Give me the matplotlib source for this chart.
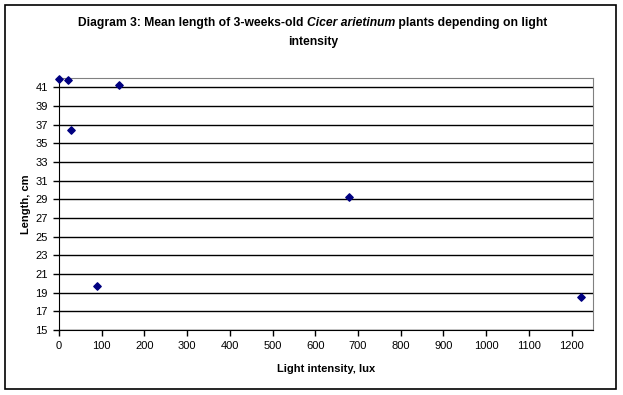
import matplotlib
matplotlib.use("Agg")
import matplotlib.pyplot as plt
from matplotlib.patches import Rectangle

plt.rcParams['font.family'] = ['Liberation Sans', 'DejaVu Sans']

# light intensity (lux) and mean plant length (cm)
light_lux = [0, 20, 28, 88, 141, 680, 1221]
length_cm = [41.9, 41.8, 36.4, 19.7, 41.3, 29.3, 18.5]

x_ticks = list(range(0, 1201, 100))
y_ticks = list(range(15, 42, 2))

W, H = 623, 395
fig = plt.figure(figsize=(W / 100, H / 100), dpi=100)

# outer chart border
fig.patches.append(Rectangle((5 / W, 1 - 389 / H), 611 / W, 384 / H,
                             transform=fig.transFigure, fill=False,
                             edgecolor='black', linewidth=1.2))

ax = fig.add_axes([59 / W, 1 - 330 / H, (593 - 59) / W, (330 - 78) / H])
ax.scatter(light_lux, length_cm, marker='D', s=14, color='#000080',
           zorder=3, clip_on=False)

ax.set_xlim(0, 1250)
ax.set_ylim(15, 42)
ax.set_xticks(x_ticks)
ax.set_yticks(y_ticks)
ax.tick_params(direction='out', length=4, width=1, labelsize=8,
               colors='black', pad=4)
ax.grid(axis='y', color='black', linewidth=1)
ax.set_axisbelow(True)

for side in ['left', 'bottom']:
    ax.spines[side].set_color('black')
for side in ['right', 'top']:
    ax.spines[side].set_color('#808080')

ax.set_xlabel('Light intensity, lux', fontsize=8, fontweight='bold', labelpad=9)
ax.set_ylabel('Length, cm', fontsize=8, fontweight='bold', labelpad=3)

# title: bold with an italic species name, built from pieces
fig.canvas.draw()
r = fig.canvas.get_renderer()
parts = [('Diagram 3: Mean length of 3-weeks-old ', 'normal'),
         ('Cicer arietinum', 'italic'),
         (' plants depending on light', 'normal')]
texts = []
for s, st in parts:
    t = fig.text(0, 1 - 23 / H, s, fontsize=8.7, fontweight='bold', style=st,
                 va='center', ha='left')
    texts.append(t)
widths = [t.get_window_extent(r).width for t in texts]
x0 = 313 - sum(widths) / 2
for t, w in zip(texts, widths):
    t.set_x(x0 / W)
    x0 += w
fig.text(313 / W, 1 - 42 / H, 'intensity', fontsize=8.7, fontweight='bold',
         va='center', ha='center')

fig.savefig('out.png', dpi=100)
